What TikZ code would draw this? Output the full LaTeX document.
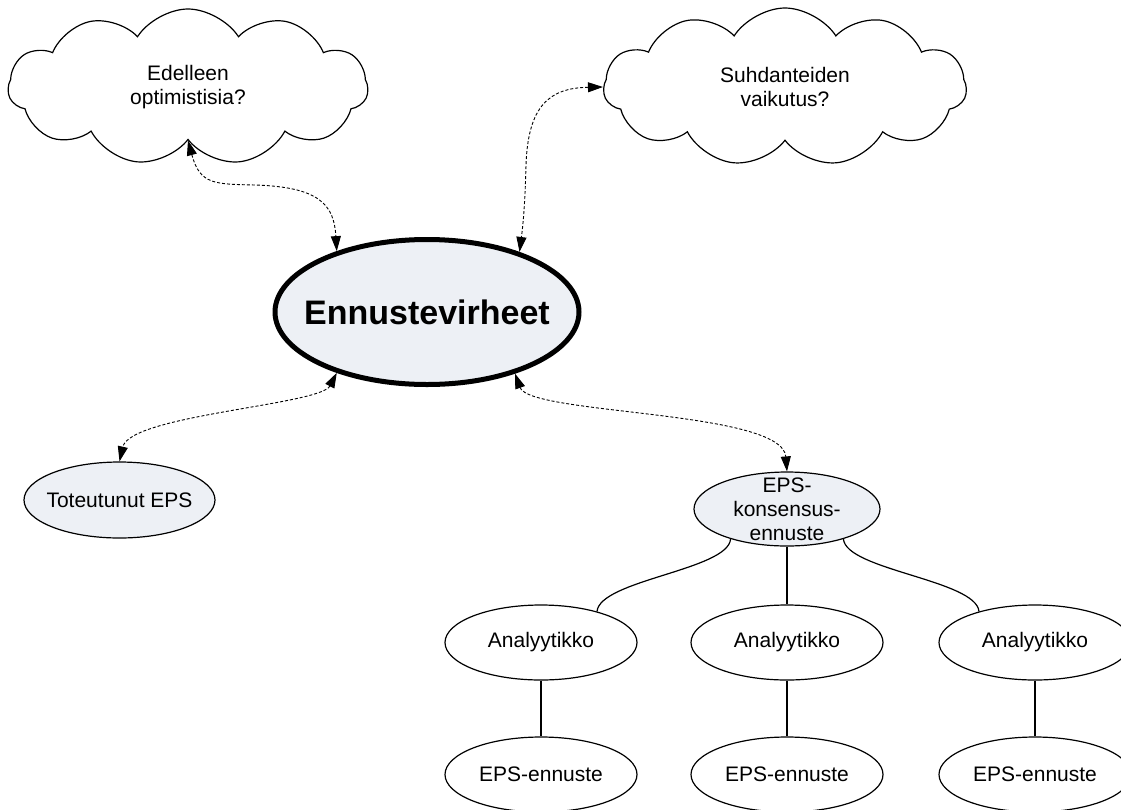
\documentclass[tikz,border=0pt]{standalone}
\usepackage{fontspec}
\setmainfont{Liberation Sans}
\usetikzlibrary{shapes.geometric,shapes.symbols,arrows.meta}
\definecolor{nodefill}{RGB}{237,240,245}
\newcommand\lbfont{\fontsize{21}{24}\selectfont}
\newcommand\bigfont{\fontsize{34}{40}\selectfont\bfseries}
\begin{document}
\begin{tikzpicture}[x=1pt,y=-1pt,
  ell/.style={ellipse, draw=black, line width=1.2pt, inner sep=0pt},
  lbl/.style={font=\lbfont, align=center, inner sep=0pt},
  thought/.style={cloud, cloud puffs=11, cloud puff arc=115, cloud ignores aspect, draw=black, line width=1.2pt, inner sep=0pt},
  darrow/.style={line width=0.9pt, dash pattern=on 3pt off 2pt, {Triangle[length=15pt,width=10pt]}-{Triangle[length=15pt,width=10pt]}},
  conn/.style={draw=black, line width=1.2pt}]
\fill[white] (0,0) rectangle (1121,809);
\useasboundingbox (0,0) rectangle (1121,809);

\node[thought, minimum width=360pt, minimum height=156pt, label={[lbl]center:{Edelleen\\optimistisia?}}] (c1) at (188,87) {};
\node[thought, minimum width=363pt, minimum height=158pt, label={[lbl]center:{Suhdanteiden\\vaikutus?}}] (c2) at (785,87) {};
\node[ell, line width=5pt, fill=nodefill, minimum width=304pt, minimum height=145pt, label={[font=\bigfont, inner sep=0pt]center:Ennustevirheet}] (ce) at (427,312) {};
\node[ell, fill=nodefill, minimum width=191pt, minimum height=76pt, label={[lbl]center:Toteutunut EPS}] (tot) at (119.5,500) {};
\node[ell, fill=nodefill, minimum width=186pt, minimum height=74pt, label={[lbl]center:{EPS-\\konsensus-\\ennuste}}] (kon) at (787,509) {};

\node[ell, minimum width=192pt, minimum height=75pt, label={[lbl]center:Analyytikko}] (a1) at (541,642.5) {};
\node[ell, minimum width=192pt, minimum height=75pt, label={[lbl]center:Analyytikko}] (a2) at (787,642.5) {};
\node[ell, minimum width=192pt, minimum height=75pt, label={[lbl]center:Analyytikko}] (a3) at (1035,642.5) {};
\node[ell, minimum width=192pt, minimum height=75pt, label={[lbl]center:EPS-ennuste}] (e1) at (541,774.5) {};
\node[ell, minimum width=192pt, minimum height=75pt, label={[lbl]center:EPS-ennuste}] (e2) at (787,774.5) {};
\node[ell, minimum width=192pt, minimum height=75pt, label={[lbl]center:EPS-ennuste}] (e3) at (1035,774.5) {};

\draw[darrow] (c1.south) .. controls (200,185) and (215,184) .. (255,185) .. controls (320,187) and (334,205) .. (ce.146);
\draw[darrow] (c2.west) .. controls (550,88) and (528,105) .. (526,165) .. controls (525,205) and (523,225) .. (ce.33);
\draw[darrow] (ce.214) .. controls (320,405) and (130,415) .. (tot.north);
\draw[darrow] (ce.325) .. controls (530,415) and (782,410) .. (kon.north);

\draw[conn] (kon.208) .. controls (728,570) and (600,580) .. (a1.29);
\draw[conn] (kon.south) -- (a2.north);
\draw[conn] (kon.332) .. controls (846,570) and (976,580) .. (a3.151);
\draw[conn] (a1.south) -- (e1.north);
\draw[conn] (a2.south) -- (e2.north);
\draw[conn] (a3.south) -- (e3.north);
\end{tikzpicture}
\end{document}
